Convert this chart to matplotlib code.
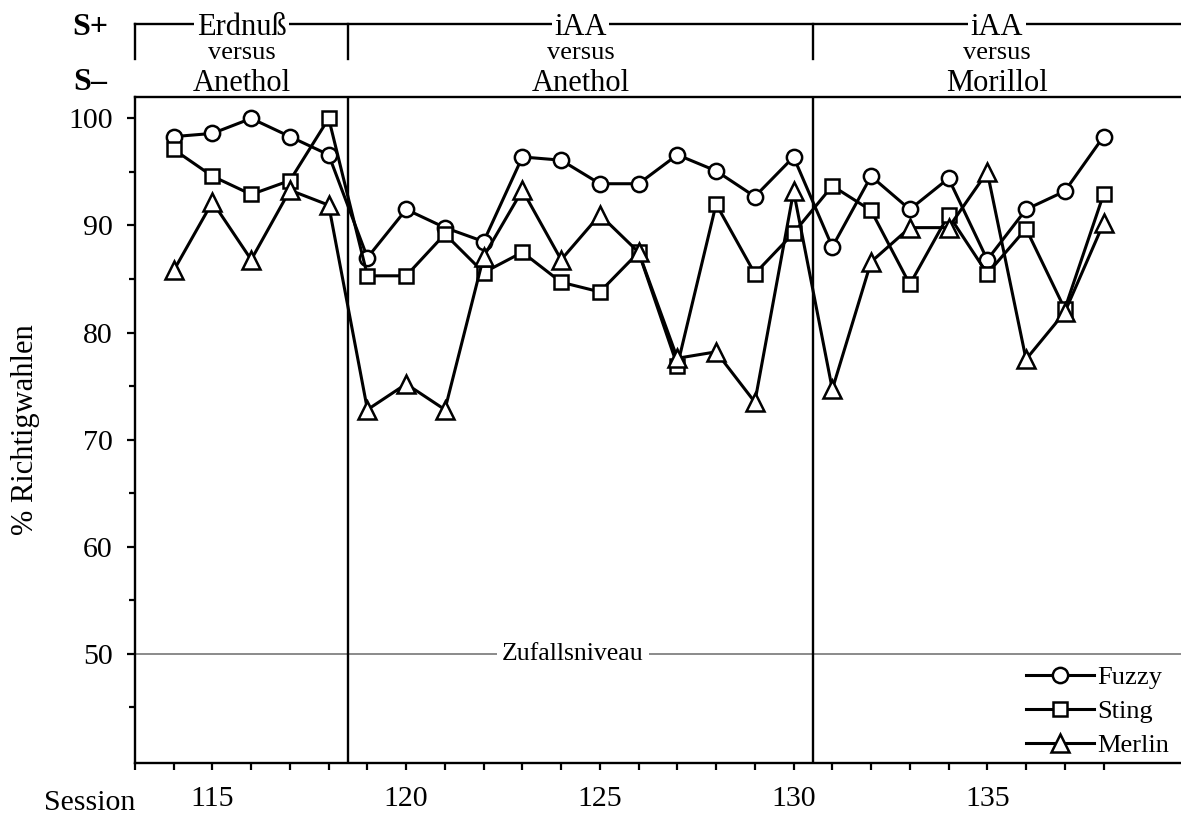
import matplotlib.pyplot as plt
from matplotlib.lines import Line2D
from matplotlib.ticker import FixedLocator
import matplotlib.transforms as mtransforms

plt.rcParams['font.family'] = ['Liberation Serif', 'DejaVu Serif']

# percent correct choices per session
sessions = list(range(114, 139))
fuzzy = [98.3, 98.6, 100.0, 98.3, 96.6, 87.0, 91.5, 89.8, 88.5, 96.4, 96.1, 93.9, 93.9,
         96.6, 95.1, 92.7, 96.4, 88.0, 94.6, 91.5, 94.4, 86.8, 91.5, 93.2, 98.3]
sting = [97.1, 94.6, 92.9, 94.2, 100.0, 85.3, 85.3, 89.2, 85.6, 87.5, 84.7, 83.8, 87.5,
         76.9, 92.0, 85.5, 89.3, 93.7, 91.4, 84.5, 91.0, 85.5, 89.7, 82.2, 92.9]
merlin = [85.8, 92.2, 86.8, 93.3, 91.9, 72.8, 75.2, 72.8, 87.1, 93.3, 86.8, 91.0, 87.5,
          77.6, 78.2, 73.5, 93.2, 74.7, 86.6, 89.8, 89.8, 95.0, 77.5, 81.9, 90.2]

# stimulus phases (S+ versus S-)
phase_edges = [113, 118.5, 130.5, 140]
phase_splus = ['Erdnuß', 'iAA', 'iAA']
phase_sminus = ['Anethol', 'Anethol', 'Morillol']

W, H = 1181, 814
fig = plt.figure(figsize=(W / 100, H / 100), dpi=100)
ax = fig.add_axes([135 / W, 1 - 763 / H, 1 - 135 / W, (763 - 97) / H])

def fy(px):
    return 1 - px / H

mk = dict(color='black', lw=2.2, markerfacecolor='white', markeredgecolor='black',
          markeredgewidth=1.8, clip_on=False)
ax.plot(sessions, fuzzy, marker='o', markersize=11, label='Fuzzy', zorder=4, **mk)
ax.plot(sessions, sting, marker='s', markersize=10.5, label='Sting', zorder=4, **mk)
ax.plot(sessions, merlin, marker='^', markersize=13, label='Merlin', zorder=4, **mk)

# chance level
ax.axhline(50, color='#777777', lw=1.2, zorder=1)
ax.text(124.3, 50, 'Zufallsniveau', ha='center', va='center', fontsize=18.5,
        bbox=dict(boxstyle='square,pad=0.2', fc='white', ec='none'), zorder=2)

# phase separators
for x in phase_edges[1:-1]:
    ax.axvline(x, color='black', lw=1.7, zorder=3)

ax.set_xlim(113, 140)
ax.set_ylim(39.8, 102)
ax.set_xticks([115, 120, 125, 130, 135])
ax.xaxis.set_minor_locator(FixedLocator([s for s in range(113, 139) if s % 5]))
ax.set_yticks([50, 60, 70, 80, 90, 100])
ax.yaxis.set_minor_locator(FixedLocator([45, 55, 65, 75, 85, 95]))
ax.tick_params(axis='both', which='both', direction='out', width=1.6, labelsize=21.5)
ax.tick_params(axis='x', which='both', length=5.2, pad=11)
ax.tick_params(axis='y', which='major', length=6, pad=10)
ax.tick_params(axis='y', which='minor', length=4)
for side in ['left', 'bottom', 'top']:
    ax.spines[side].set_linewidth(1.7)
ax.spines['right'].set_visible(False)

ax.set_ylabel('% Richtigwahlen', fontsize=22, labelpad=20)
fig.text(135 / W, fy(810), 'Session', ha='right', va='baseline', fontsize=21.5)

ax.legend(loc='lower right', bbox_to_anchor=(1 - 12 / 1046, 6 / 666), frameon=False,
          fontsize=19, handlelength=2.6, handletextpad=0.1, labelspacing=0.4,
          borderaxespad=0, borderpad=0)

# S+ / S- header
trans = mtransforms.blended_transform_factory(ax.transData, fig.transFigure)
fig.text(90 / W, fy(35), 'S+', ha='center', va='baseline', fontsize=23, fontweight='bold')
fig.text(90 / W, fy(90), 'S–', ha='center', va='baseline', fontsize=23, fontweight='bold')
fig.add_artist(Line2D([phase_edges[0], phase_edges[-1]], [fy(23.5), fy(23.5)],
                      transform=trans, color='black', lw=1.7))
for x in phase_edges[:-1]:
    fig.add_artist(Line2D([x, x], [fy(23.5), fy(59)], transform=trans, color='black', lw=1.7))
for i in range(len(phase_splus)):
    mid = (phase_edges[i] + phase_edges[i + 1]) / 2
    fig.text(mid, fy(35), phase_splus[i], transform=trans, ha='center', va='baseline',
             fontsize=22, bbox=dict(boxstyle='square,pad=0.08', fc='white', ec='none'))
    fig.text(mid, fy(59), 'versus', transform=trans, ha='center', va='baseline', fontsize=19)
    fig.text(mid, fy(91), phase_sminus[i], transform=trans, ha='center', va='baseline',
             fontsize=22)

fig.savefig('out.png', dpi=100)
